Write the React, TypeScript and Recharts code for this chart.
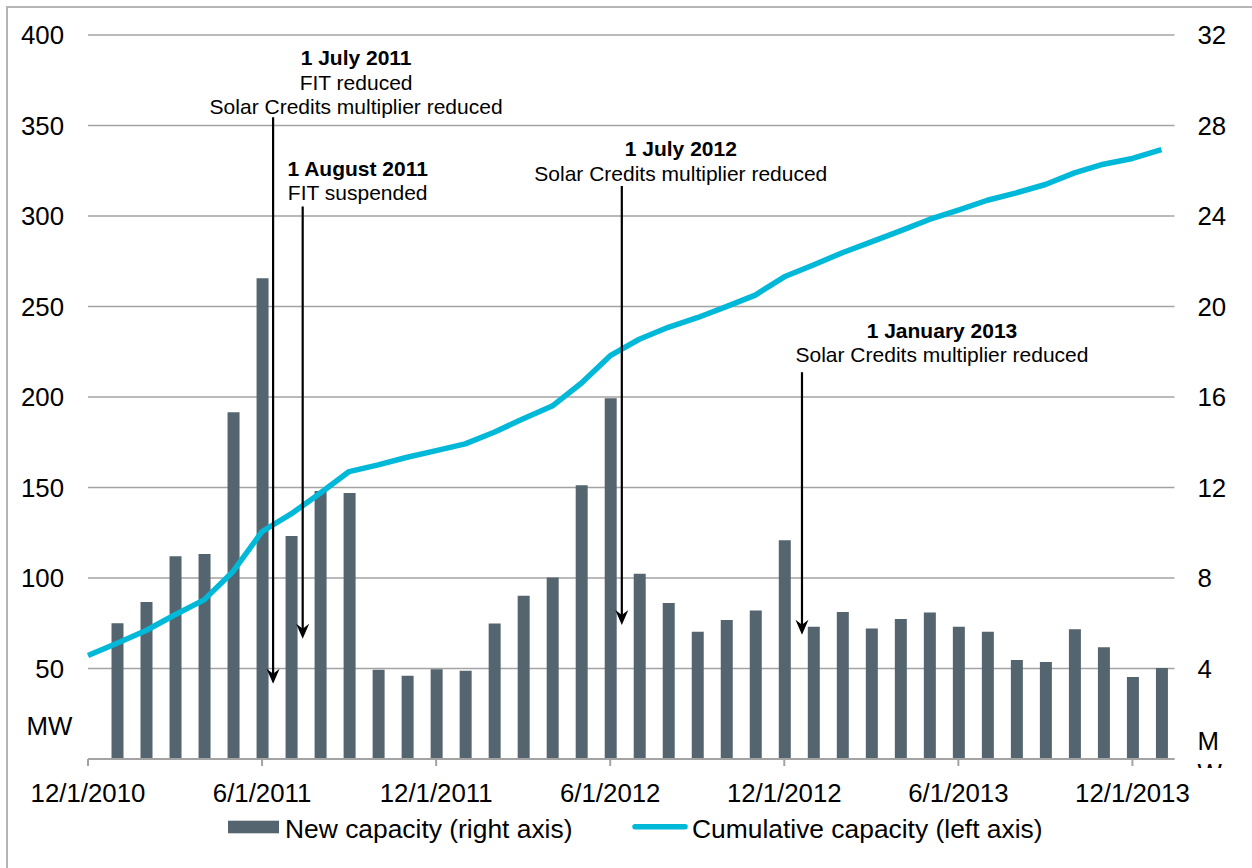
import React from "react";
import {
  ComposedChart,
  Bar,
  Line,
  XAxis,
  YAxis,
  CartesianGrid,
  Legend,
  ReferenceLine,
} from "recharts";

// monthly points, 12/1/2010 .. 1/1/2014 (index = months since Dec 2010)
const months = [
  "2010-12", "2011-01", "2011-02", "2011-03", "2011-04", "2011-05", "2011-06", "2011-07",
  "2011-08", "2011-09", "2011-10", "2011-11", "2011-12", "2012-01", "2012-02", "2012-03",
  "2012-04", "2012-05", "2012-06", "2012-07", "2012-08", "2012-09", "2012-10", "2012-11",
  "2012-12", "2013-01", "2013-02", "2013-03", "2013-04", "2013-05", "2013-06", "2013-07",
  "2013-08", "2013-09", "2013-10", "2013-11", "2013-12", "2014-01",
];

// New capacity, MW (right axis)
const newCapacity = [
  null, 6.0, 6.94, 8.96, 9.06, 15.33, 21.25, 9.86, 11.85, 11.76, 3.94, 3.68, 3.97,
  3.9, 5.99, 7.21, 8.02, 12.1, 15.94, 8.19, 6.9, 5.62, 6.14, 6.56, 9.67, 5.84, 6.5,
  5.77, 6.19, 6.47, 5.84, 5.62, 4.38, 4.29, 5.74, 4.94, 3.62, 4.02,
];

// Cumulative capacity, MW (left axis)
const cumulative = [
  57.2, 64.0, 71.0, 79.7, 87.9, 103.6, 125.7, 135.4, 146.8, 158.8, 162.5, 166.7, 170.4,
  174.1, 180.5, 188.0, 195.0, 207.6, 222.8, 231.9, 238.5, 243.8, 249.9, 256.3, 266.4,
  272.9, 279.7, 285.7, 291.8, 298.1, 303.3, 308.7, 312.8, 317.4, 323.8, 328.6, 331.8, 336.7,
];

const xTicks = [0, 6, 12, 18, 24, 30, 36];
const xTickLabels = ["12/1/2010", "6/1/2011", "12/1/2011", "6/1/2012", "12/1/2012", "6/1/2013", "12/1/2013"];
const leftTicks = [0, 50, 100, 150, 200, 250, 300, 350, 400];
const rightTicks = [0, 4, 8, 12, 16, 20, 24, 28, 32];

// policy events: x in months, arrow from/to in left-axis MW
const eventX = [6.38, 7.4, 18.4, 24.61];
const eventFrom = [354.6, 305.3, 316.6, 213.7];
const eventTo = [41.6, 66.4, 74.1, 68.6];
const eventTitle = ["1 July 2011", "1 August 2011", "1 July 2012", "1 January 2013"];
const eventNotes = [
  ["FIT reduced", "Solar Credits multiplier reduced"],
  ["FIT suspended"],
  ["Solar Credits multiplier reduced"],
  ["Solar Credits multiplier reduced"],
];
// label placement relative to the arrow's top (px)
const eventLabelDx = [83, 55, 59, 140];
const eventLabelGap = [3, 6, 5, 10];

const data = months.map((m, i) => ({ m: i, key: m, newCap: newCapacity[i], cum: cumulative[i] }));

const FONT = "'Liberation Sans', Arial, Helvetica, sans-serif";
const BAR = "#55656F";
const CYAN = "#00B8D8";
const GRID = "#A3A3A3";

const LeftTick = ({ x, y, payload }: any) =>
  payload.value === 0 ? (
    <text x={x - 14.5} y={y - 24} textAnchor="middle" fontSize={25.8} fontFamily={FONT} fill="#000">MW</text>
  ) : (
    <text x={x} y={y} dy={9} textAnchor="end" fontSize={25.8} fontFamily={FONT} fill="#000">{payload.value}</text>
  );

const RightTick = ({ x, y, payload }: any) =>
  payload.value === 0 ? (
    <g>
      <defs>
        <clipPath id="mwclip">
          <rect x={x - 5} y={y - 40} width={60} height={49} />
        </clipPath>
      </defs>
      <g clipPath="url(#mwclip)">
        <text x={x} y={y - 9} fontSize={25.8} fontFamily={FONT} fill="#000">M</text>
        <text x={x} y={y + 23} fontSize={25.8} fontFamily={FONT} fill="#000">W</text>
      </g>
    </g>
  ) : (
    <text x={x} y={y} dy={9} textAnchor="start" fontSize={25.8} fontFamily={FONT} fill="#000">{payload.value}</text>
  );

const BottomTick = ({ x, y, payload }: any) => (
  <text x={x} y={y + 34} textAnchor="middle" fontSize={25.8} fontFamily={FONT} fill="#000">
    {xTickLabels[xTicks.indexOf(payload.value)]}
  </text>
);

const arrowShape = (i: number) => (props: any) => {
  const { x1, y1, y2 } = props;
  const x = x1;
  const lines = [eventTitle[i], ...eventNotes[i]];
  const lastBase = y1 - eventLabelGap[i];
  return (
    <g>
      <line x1={x} y1={y1} x2={x} y2={y2 - 9} stroke="#000" strokeWidth={2.2} />
      <polygon points={`${x},${y2} ${x - 6.5},${y2 - 15} ${x},${y2 - 10} ${x + 6.5},${y2 - 15}`} fill="#000" />
      {lines.map((t, k) => (
        <text
          key={k}
          x={x + eventLabelDx[i]}
          y={lastBase - (lines.length - 1 - k) * 24.5}
          textAnchor="middle"
          fontSize={21}
          fontFamily={FONT}
          fontWeight={k === 0 ? "bold" : "normal"}
          fill="#000"
        >
          {t}
        </text>
      ))}
    </g>
  );
};

const LegendContent = () => (
  <svg width={1252} height={50} style={{ display: "block" }}>
    <rect x={228} y={12.7} width={51} height={12.6} fill={BAR} />
    <text x={285} y={30} fontSize={26.4} fontFamily={FONT} fill="#000">New capacity (right axis)</text>
    <line x1={635} y1={18.7} x2={685} y2={18.7} stroke={CYAN} strokeWidth={5.5} strokeLinecap="round" />
    <text x={692} y={30} fontSize={26.4} fontFamily={FONT} fill="#000">Cumulative capacity (left axis)</text>
  </svg>
);

export default function App() {
  return (
    <div style={{ position: "absolute", left: 0, top: 0, width: 1252, height: 868, overflow: "hidden", background: "#fff" }}>
      <div style={{ position: "absolute", left: 6, top: 6, width: 1270, height: 900, border: "2px solid #B4B4B4" }} />
      <div style={{ position: "absolute", left: 0, top: 0 }}>
        <ComposedChart width={1252} height={868} data={data} margin={{ top: 35, right: 17.5, bottom: 49, left: 28 }}>
          <CartesianGrid yAxisId="left" vertical={false} stroke={GRID} strokeWidth={1.6} />
          <XAxis
            dataKey="m"
            type="number"
            domain={[0, 37.45]}
            ticks={xTicks}
            interval={0}
            height={60}
            tickSize={7}
            tickMargin={2}
            axisLine={{ stroke: GRID, strokeWidth: 2 }}
            tickLine={{ stroke: GRID, strokeWidth: 2 }}
            tick={<BottomTick />}
          />
          <YAxis
            yAxisId="left"
            domain={[0, 400]}
            ticks={leftTicks}
            interval={0}
            width={60}
            axisLine={false}
            tickLine={false}
            tickSize={0}
            tickMargin={24}
            tick={<LeftTick />}
          />
          <YAxis
            yAxisId="right"
            orientation="right"
            domain={[0, 32]}
            ticks={rightTicks}
            interval={0}
            width={60}
            axisLine={false}
            tickLine={false}
            tickSize={0}
            tickMargin={23}
            tick={<RightTick />}
          />
          <Bar yAxisId="right" dataKey="newCap" fill={BAR} barSize={12} isAnimationActive={false} />
          <Line
            yAxisId="left"
            dataKey="cum"
            type="linear"
            stroke={CYAN}
            strokeWidth={5.5}
            dot={false}
            strokeLinejoin="round"
            isAnimationActive={false}
          />
          {eventX.map((ex, i) => (
            <ReferenceLine
              key={i}
              yAxisId="left"
              segment={[{ x: ex, y: eventFrom[i] }, { x: ex, y: eventTo[i] }]}
              shape={arrowShape(i)}
              ifOverflow="visible"
            />
          ))}
          <Legend
            layout="horizontal"
            verticalAlign="middle"
            align="center"
            content={<LegendContent />}
            wrapperStyle={{ top: 808, left: 0, width: 1252, height: 50 }}
          />
        </ComposedChart>
      </div>
    </div>
  );
}
